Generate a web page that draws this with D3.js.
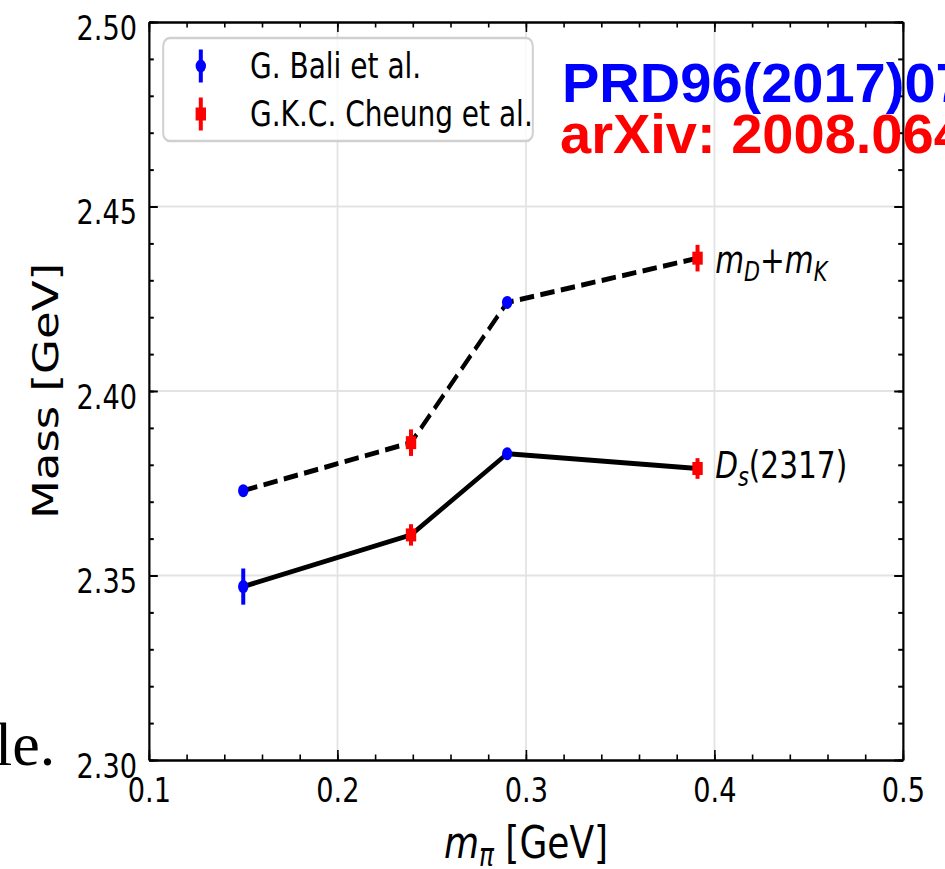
<!DOCTYPE html>
<html>
<head>
<meta charset="utf-8">
<script src="https://cdn.jsdelivr.net/npm/d3@7"></script>
<style>
  body { margin: 0; background: #fff; }
  svg { display: block; }
  .axis path { stroke: #000; stroke-width: 2.2; }
  .axis line { stroke: #000; stroke-width: 2; }
  .axis text { fill: #000; font-family: "DejaVu Sans", sans-serif; font-size: 34px; }
</style>
</head>
<body>
<div id="chart"></div>
<script>
// data
var mpi = [0.150, 0.239, 0.290, 0.391];
var group = ["Bali", "Cheung", "Bali", "Cheung"];
var thresh = [2.373, 2.386, 2.424, 2.436];      // mD + mK
var threshErr = [0.0005, 0.0036, 0.0008, 0.0036];
var ds = [2.347, 2.361, 2.383, 2.379];          // Ds(2317)
var dsErr = [0.0049, 0.0029, 0.0009, 0.0028];
var xTicks = [0.1, 0.2, 0.3, 0.4, 0.5];
var yTicks = [2.30, 2.35, 2.40, 2.45, 2.50];
var legendNames = ["G. Bali et al.", "G.K.C. Cheung et al."];
var legendKeys = ["Bali", "Cheung"];
var colors = {Bali: "#0000ff", Cheung: "#ff0000"};

var W = 945, H = 869;
var sx = 0.8;   // the plot is squeezed horizontally in the picture

var margin = {top: 22, left: 186.25, right: 1128.75, bottom: 760};

var x = d3.scaleLinear().domain([0.1, 0.5]).range([margin.left, margin.right]);
var y = d3.scaleLinear().domain([2.30, 2.50]).range([margin.bottom, margin.top]);

var svg = d3.select("#chart").append("svg")
    .attr("width", W)
    .attr("height", H);

svg.append("rect").attr("width", W).attr("height", H).attr("fill", "#fff");

var g = svg.append("g").attr("transform", "scale(" + sx + ",1)");

// grid
g.append("g").selectAll("line")
    .data(xTicks.slice(1, -1))
  .enter().append("line")
    .attr("x1", function(d) { return x(d); }).attr("x2", function(d) { return x(d); })
    .attr("y1", margin.top).attr("y2", margin.bottom)
    .attr("stroke", "#e3e3e3").attr("stroke-width", 2.2);
g.append("g").selectAll("line")
    .data(yTicks.slice(1, -1))
  .enter().append("line")
    .attr("x1", margin.left).attr("x2", margin.right)
    .attr("y1", function(d) { return y(d); }).attr("y2", function(d) { return y(d); })
    .attr("stroke", "#e3e3e3").attr("stroke-width", 2.2);

// lines
var line = d3.line()
    .x(function(d) { return x(d[0]); })
    .y(function(d) { return y(d[1]); });

g.append("path")
    .attr("d", line(d3.zip(mpi, thresh)))
    .attr("fill", "none").attr("stroke", "#000").attr("stroke-width", 5)
    .attr("stroke-dasharray", "18,8");
g.append("path")
    .attr("d", line(d3.zip(mpi, ds)))
    .attr("fill", "none").attr("stroke", "#000").attr("stroke-width", 5)
    .attr("stroke-linejoin", "round");

// error bars and markers
function drawPoints(vals, errs) {
  var pts = g.append("g").selectAll("g")
      .data(mpi.map(function(m, i) { return {m: m, v: vals[i], e: errs[i], k: group[i]}; }))
    .enter().append("g");
  pts.append("line")
      .attr("x1", function(d) { return x(d.m); }).attr("x2", function(d) { return x(d.m); })
      .attr("y1", function(d) { return y(d.v - d.e); })
      .attr("y2", function(d) { return y(d.v + d.e); })
      .attr("stroke", function(d) { return colors[d.k]; })
      .attr("stroke-width", 5);
  pts.each(function(d) {
    var s = d3.select(this);
    if (d.k == "Bali") {
      s.append("circle").attr("cx", x(d.m)).attr("cy", y(d.v)).attr("r", 6.5)
          .attr("fill", colors[d.k]);
    } else {
      s.append("rect").attr("x", x(d.m) - 6.5).attr("y", y(d.v) - 6.5)
          .attr("width", 13).attr("height", 13).attr("fill", colors[d.k]);
    }
  });
}
drawPoints(thresh, threshErr);
drawPoints(ds, dsErr);

// axes, ticks inward on all sides
var minorX = d3.range(0.1, 0.5001, 0.02), minorY = d3.range(2.30, 2.5001, 0.01);

g.append("g").attr("class", "axis")
    .attr("transform", "translate(0," + margin.bottom + ")")
    .call(d3.axisBottom(x).tickValues(xTicks).tickSizeInner(-10).tickSizeOuter(0)
      .tickPadding(18).tickFormat(d3.format(".1f")));
g.append("g").attr("class", "axis")
    .attr("transform", "translate(0," + margin.bottom + ")")
    .call(d3.axisBottom(x).tickValues(minorX).tickSizeInner(-5.5).tickSizeOuter(0).tickFormat(""));
g.append("g").attr("class", "axis")
    .attr("transform", "translate(0," + margin.top + ")")
    .call(d3.axisTop(x).tickValues(xTicks).tickSizeInner(-10).tickSizeOuter(0).tickFormat(""));
g.append("g").attr("class", "axis")
    .attr("transform", "translate(0," + margin.top + ")")
    .call(d3.axisTop(x).tickValues(minorX).tickSizeInner(-5.5).tickSizeOuter(0).tickFormat(""));

var yl = g.append("g").attr("class", "axis")
    .attr("transform", "translate(" + margin.left + ",0)")
    .call(d3.axisLeft(y).tickValues(yTicks).tickSizeInner(-11).tickSizeOuter(0)
      .tickPadding(15).tickFormat(d3.format(".2f")));
yl.selectAll("text").attr("dy", "0.5em");
g.append("g").attr("class", "axis")
    .attr("transform", "translate(" + margin.left + ",0)")
    .call(d3.axisLeft(y).tickValues(minorY).tickSizeInner(-6).tickSizeOuter(0).tickFormat(""));
g.append("g").attr("class", "axis")
    .attr("transform", "translate(" + margin.right + ",0)")
    .call(d3.axisRight(y).tickValues(yTicks).tickSizeInner(-11).tickSizeOuter(0).tickFormat(""));
g.append("g").attr("class", "axis")
    .attr("transform", "translate(" + margin.right + ",0)")
    .call(d3.axisRight(y).tickValues(minorY).tickSizeInner(-6).tickSizeOuter(0).tickFormat(""));

// axis titles
var xt = g.append("text")
    .attr("x", (margin.left + margin.right) / 2).attr("y", 858)
    .attr("text-anchor", "middle")
    .style("font-family", "DejaVu Sans").style("font-size", "45px");
xt.append("tspan").style("font-style", "italic").text("m");
xt.append("tspan").style("font-style", "italic").style("font-size", "31px").attr("dy", 8).text("π");
xt.append("tspan").attr("dy", -8).text(" [GeV]");

g.append("text")
    .attr("transform", "translate(73," + (margin.top + margin.bottom) / 2 + ") rotate(-90)")
    .attr("text-anchor", "middle")
    .style("font-family", "DejaVu Sans").style("font-size", "45px")
    .text("Mass [GeV]");

// curve labels
var lab1 = g.append("text")
    .attr("x", 894).attr("y", 273)
    .style("font-family", "DejaVu Sans").style("font-size", "37px");
lab1.append("tspan").style("font-style", "italic").text("m");
lab1.append("tspan").style("font-style", "italic").style("font-size", "26px").attr("dy", 8).text("D");
lab1.append("tspan").attr("dy", -8).text("+");
lab1.append("tspan").style("font-style", "italic").text("m");
lab1.append("tspan").style("font-style", "italic").style("font-size", "26px").attr("dy", 8).text("K");

var lab2 = g.append("text")
    .attr("x", 894).attr("y", 478)
    .style("font-family", "DejaVu Sans").style("font-size", "37px");
lab2.append("tspan").style("font-style", "italic").text("D");
lab2.append("tspan").style("font-style", "italic").style("font-size", "26px").attr("dy", 8).text("s");
lab2.append("tspan").attr("dy", -8).text("(2317)");

// legend
var leg = g.append("g");
leg.append("rect")
    .attr("x", 204).attr("y", 38).attr("width", 462).attr("height", 103)
    .attr("rx", 8).attr("ry", 8)
    .attr("fill", "#fff").attr("fill-opacity", 0.8)
    .attr("stroke", "#d0d0d0").attr("stroke-width", 2.5);
legendKeys.forEach(function(k, i) {
  var cy = 66 + i * 48;
  leg.append("line")
      .attr("x1", 251).attr("x2", 251).attr("y1", cy - 16.5).attr("y2", cy + 16.5)
      .attr("stroke", colors[k]).attr("stroke-width", 5);
  if (k == "Bali") {
    leg.append("circle").attr("cx", 251).attr("cy", cy).attr("r", 6.5).attr("fill", colors[k]);
  } else {
    leg.append("rect").attr("x", 244.5).attr("y", cy - 6.5).attr("width", 13).attr("height", 13)
        .attr("fill", colors[k]);
  }
  leg.append("text")
      .attr("x", 312.5).attr("y", cy + 12)
      .style("font-family", "DejaVu Sans").style("font-size", "35px")
      .text(legendNames[i]);
});

// slide text on top of the figure (not squeezed)
svg.append("text")
    .attr("x", 562).attr("y", 102)
    .style("font-family", "Liberation Sans, Arial, sans-serif").style("font-weight", "bold")
    .style("font-size", "56px").attr("fill", "#0000ff")
    .text("PRD96(2017)074501");
svg.append("text")
    .attr("x", 560).attr("y", 153)
    .style("font-family", "Liberation Sans, Arial, sans-serif").style("font-weight", "bold")
    .style("font-size", "56px").attr("fill", "#ff0000")
    .text("arXiv: 2008.06432");
svg.append("text")
    .attr("x", -5).attr("y", 765)
    .style("font-family", "Liberation Serif, Times New Roman, serif")
    .style("font-size", "62px").attr("fill", "#000")
    .text("le.");
</script>
</body>
</html>
